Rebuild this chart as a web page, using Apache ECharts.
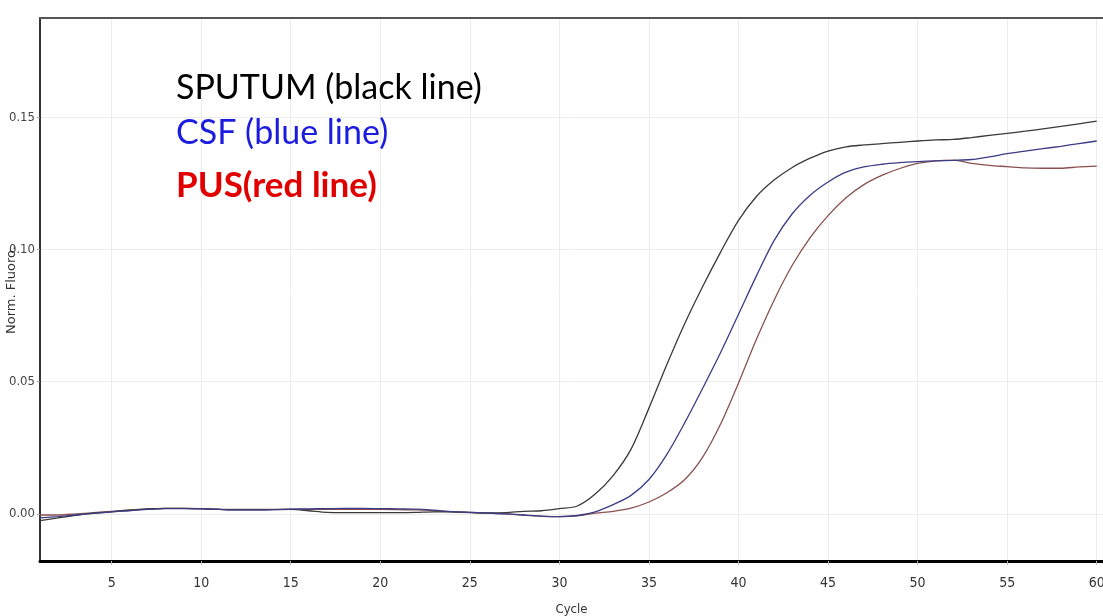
<!DOCTYPE html>
<html>
<head>
<meta charset="utf-8">
<script src="https://cdn.jsdelivr.net/npm/echarts@6/dist/echarts.min.js"></script>
<style>html,body{margin:0;padding:0;background:#fff}#c{width:1103px;height:616px}</style>
</head>
<body>
<div id="c"></div>
<script>
const cycles = [1,2,3,4,5,6,7,8,9,10,11,12,13,14,15,16,17,18,19,20,21,22,23,24,25,26,27,28,29,30,31,32,33,34,35,36,37,38,39,40,41,42,43,44,45,46,47,48,49,50,51,52,53,54,55,56,57,58,59,60];
const sputum = [-0.0025,-0.0015,-0.0005,0.0003,0.0008,0.0014,0.0019,0.0021,0.0021,0.0020,0.0017,0.0015,0.0015,0.0016,0.0017,0.0012,0.0006,0.0005,0.0005,0.0005,0.0005,0.0006,0.0008,0.0008,0.0006,0.0004,0.0005,0.0010,0.0012,0.0020,0.0030,0.0075,0.0145,0.0245,0.0400,0.0565,0.0720,0.0860,0.0990,0.1110,0.1200,0.1263,0.1310,0.1345,0.1372,0.1388,0.1395,0.1400,0.1405,0.1410,0.1414,0.1416,0.1423,0.1431,0.1439,0.1447,0.1456,0.1465,0.1475,0.1485];
const csf = [-0.0015,-0.0010,-0.0004,0.0002,0.0008,0.0012,0.0017,0.0020,0.0020,0.0019,0.0017,0.0015,0.0015,0.0016,0.0018,0.0019,0.0020,0.0021,0.0021,0.0020,0.0019,0.0018,0.0014,0.0009,0.0006,0.0003,0.0000,-0.0004,-0.0008,-0.0010,-0.0006,0.0008,0.0035,0.0070,0.0130,0.0225,0.0345,0.0475,0.0610,0.0755,0.0900,0.1035,0.1135,0.1205,0.1255,0.1292,0.1312,0.1322,0.1328,0.1332,0.1335,0.1337,0.1340,0.1350,0.1362,0.1372,0.1381,0.1390,0.1400,0.1410];
const pus = [-0.0004,-0.0004,0.0000,0.0005,0.0010,0.0015,0.0019,0.0021,0.0021,0.0020,0.0018,0.0017,0.0017,0.0017,0.0017,0.0017,0.0017,0.0017,0.0017,0.0017,0.0016,0.0015,0.0012,0.0008,0.0005,0.0003,0.0000,-0.0005,-0.0009,-0.0010,-0.0007,0.0003,0.0010,0.0022,0.0045,0.0080,0.0130,0.0215,0.0340,0.0495,0.0660,0.0810,0.0940,0.1045,0.1128,0.1195,0.1245,0.1280,0.1306,0.1325,0.1335,0.1338,0.1325,0.1318,0.1313,0.1308,0.1307,0.1307,0.1312,0.1315];
const xTicks = [5,10,15,20,25,30,35,40,45,50,55,60];
const yTicks = [0, 0.05, 0.10, 0.15];
const legendTexts = ['SPUTUM (black line)', 'CSF (blue line)', 'PUS(red line)'];
const yAxisTitle = 'Norm. Fluoro.';
const xAxisTitle = 'Cycle';

const pair = arr => cycles.map((c, i) => [c, arr[i]]);
const chart = echarts.init(document.getElementById('c'), null, {renderer: 'canvas'});
const narrow = "'DejaVu Sans Condensed', 'Liberation Sans Narrow', 'Liberation Sans', sans-serif";
const lineOpts = {type: 'line', showSymbol: false, smooth: 0.3};
chart.setOption({
  animation: false,
  backgroundColor: '#ffffff',
  grid: {left: 40, right: 0, top: 18, bottom: 55, containLabel: false, outerBoundsMode: 'none'},
  xAxis: [{
    type: 'value', min: 1, max: 60.35, position: 'bottom',
    name: xAxisTitle, nameLocation: 'middle', nameGap: 42,
    nameTextStyle: {fontFamily: narrow, fontSize: 13, color: '#333'},
    axisLine: {show: true, onZero: false, lineStyle: {color: '#000', width: 3}},
    axisTick: {show: true, customValues: xTicks, length: 4, lineStyle: {color: '#bbb'}},
    axisLabel: {customValues: xTicks, fontFamily: narrow, fontSize: 14, color: '#333', margin: 15, formatter: v => String(v)},
    splitLine: {show: true, lineStyle: {color: '#ececec', width: 1}}
  }, {
    type: 'value', min: 1, max: 60.35, position: 'top',
    axisLine: {show: true, onZero: false, lineStyle: {color: '#555', width: 2}},
    axisTick: {show: false}, axisLabel: {show: false}, splitLine: {show: false}
  }],
  yAxis: {
    type: 'value', min: -0.0178, max: 0.1875,
    axisLine: {show: true, onZero: false, lineStyle: {color: '#333', width: 2}},
    axisTick: {show: true, customValues: yTicks, length: 3, lineStyle: {color: '#999'}},
    axisLabel: {customValues: yTicks, fontFamily: narrow, fontSize: 13, color: '#444', margin: 5, formatter: v => v.toFixed(2)},
    splitLine: {show: true, lineStyle: {color: '#ececec', width: 1}}
  },
  series: [
    Object.assign({name: 'SPUTUM', data: pair(sputum), lineStyle: {color: '#3a3a3a', width: 1.3}, z: 3}, lineOpts),
    Object.assign({name: 'CSF', data: pair(csf), lineStyle: {color: '#3c3c86', width: 1.3}, z: 4}, lineOpts),
    Object.assign({name: 'PUS', data: pair(pus), lineStyle: {color: '#8a5050', width: 1.3}, z: 2}, lineOpts)
  ],
  graphic: [
    {type: 'text', x: 12, y: 290, rotation: Math.PI / 2, z: 100, style: {text: yAxisTitle, fill: '#333', align: 'center', verticalAlign: 'middle', font: "13px 'DejaVu Sans', sans-serif"}},
    {type: 'text', x: 176, y: 88, z: 100, style: {text: legendTexts[0], fill: '#000', verticalAlign: 'middle', font: "34px Lato, 'Open Sans', sans-serif"}},
    {type: 'text', x: 176, y: 133, z: 100, style: {text: legendTexts[1], fill: '#1c1ce0', verticalAlign: 'middle', font: "34px Lato, 'Open Sans', sans-serif"}},
    {type: 'text', x: 176, y: 186, z: 100, style: {text: legendTexts[2], fill: '#e00000', verticalAlign: 'middle', font: "bold 35px Lato, 'Open Sans', sans-serif"}}
  ]
});
</script>
</body>
</html>
